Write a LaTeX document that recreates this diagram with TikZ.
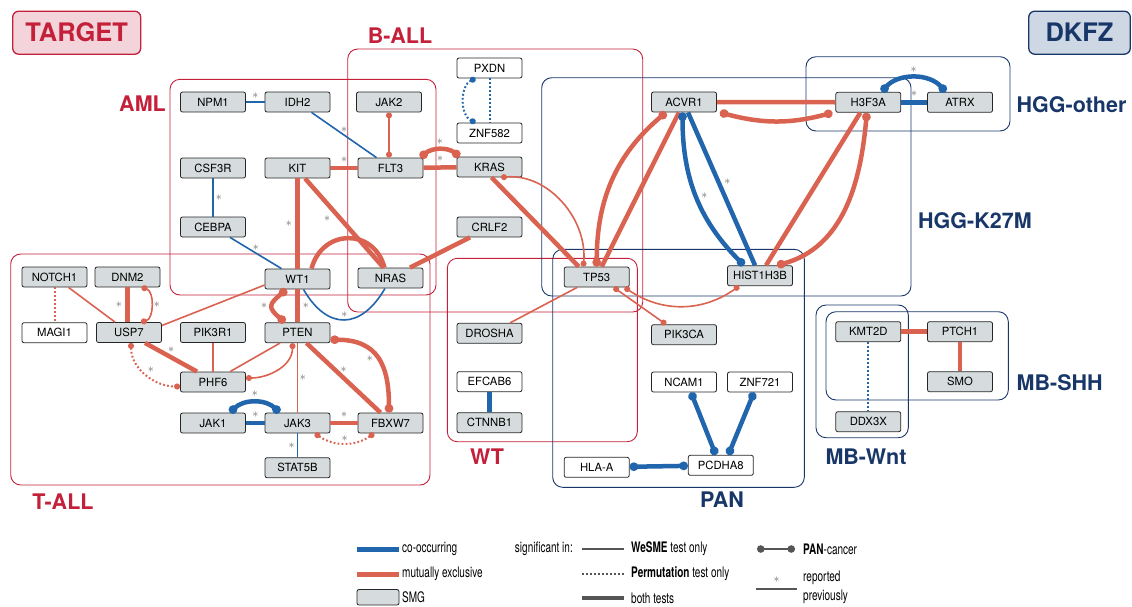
\documentclass[tikz,border=0pt]{standalone}
\usepackage{fontspec}
\setmainfont{TeX Gyre Heros}
\newfontfamily\legendfont[FakeStretch=0.69]{TeX Gyre Heros}
\usetikzlibrary{arrows.meta}

\definecolor{mxred}{RGB}{218,98,80}
\definecolor{coblue}{RGB}{33,101,172}
\definecolor{tgtred}{RGB}{196,32,58}
\definecolor{tgtfill}{RGB}{242,212,218}
\definecolor{dkblue}{RGB}{24,55,104}
\definecolor{dkfill}{RGB}{206,216,228}
\definecolor{smgfill}{RGB}{214,220,221}
\definecolor{stargray}{RGB}{105,105,105}
\definecolor{leggray}{RGB}{85,85,85}

\begin{document}
\begin{tikzpicture}[x=1pt,y=-1pt,
    smg/.style={draw=black!85, line width=0.8pt, fill=smgfill, rounded corners=2pt,
        minimum width=65pt, minimum height=20pt, inner sep=0pt, font=\fontsize{11.3}{12}\selectfont},
    gene/.style={smg, fill=white},
    tgtbox/.style={draw=tgtred, line width=0.9pt, rounded corners=10pt},
    dkbox/.style={draw=dkblue, line width=0.9pt, rounded corners=10pt},
    tgtlabel/.style={text=tgtred, inner sep=0pt, font=\bfseries\fontsize{21.5}{22}\selectfont},
    dklabel/.style={text=dkblue, inner sep=0pt, font=\bfseries\fontsize{21.5}{22}\selectfont},
    mx/.style={color=mxred},
    co/.style={color=coblue},
    wes/.style={line width=1.6pt},
    perm/.style={line width=2pt, dash pattern=on 1.8pt off 2.2pt},
    both/.style={line width=4.5pt},
    pan/.style={{Circle[length=#1]}-{Circle[length=#1]}},
    pan/.default=6pt,
    rp/.style={text=stargray, inner sep=0pt, font=\fontsize{13}{13}\selectfont},
    leg/.style={inner sep=0pt, font=\legendfont\fontsize{14.5}{19}\selectfont}]
    \useasboundingbox (0,0) rectangle (1132,606);

    \node[draw=tgtred, fill=tgtfill, line width=1.3pt, rounded corners=6pt, minimum width=128pt,
        minimum height=43pt, inner sep=0pt, text=tgtred, font=\bfseries\fontsize{25.5}{26}\selectfont]
        (target) at (76.7,32.7) {TARGET};
    \node[draw=dkblue, fill=dkfill, line width=1.3pt, rounded corners=6pt, minimum width=101.5pt,
        minimum height=43pt, inner sep=0pt, text=dkblue, font=\bfseries\fontsize{25.5}{26}\selectfont]
        (dkfz) at (1079.5,32.7) {DKFZ};

    \draw[tgtbox] (170,79.3) rectangle (436,295);
    \draw[tgtbox] (347.7,49) rectangle (642.7,312);
    \draw[tgtbox] (10.7,254) rectangle (430,485);
    \draw[tgtbox] (447.3,258.3) rectangle (637.3,441.7);
    \draw[dkbox] (541.7,77.7) rectangle (911,296);
    \draw[dkbox] (806,56.7) rectangle (1010,131);
    \draw[dkbox] (552.7,249.3) rectangle (804.3,487.3);
    \draw[dkbox] (826,311.7) rectangle (1008.3,400);
    \draw[dkbox] (816,305) rectangle (908.3,437.7);

    \node[tgtlabel, anchor=east] (lAML) at (166,104) {AML};
    \node[tgtlabel] (lBALL) at (400,36) {B-ALL};
    \node[tgtlabel] (lTALL) at (63,502) {T-ALL};
    \node[tgtlabel] (lWT) at (487,457) {WT};
    \node[dklabel, anchor=west] (lHGGo) at (1016.5,105) {HGG-other};
    \node[dklabel, anchor=west] (lHGGk) at (918,221) {HGG-K27M};
    \node[dklabel, anchor=west] (lSHH) at (1016.5,383) {MB-SHH};
    \node[dklabel] (lWnt) at (866,457) {MB-Wnt};
    \node[dklabel] (lPAN) at (722,500) {PAN};

    \node[smg] (NPM1) at (213,102) {NPM1};
    \node[smg] (IDH2) at (297.5,102) {IDH2};
    \node[smg] (JAK2) at (389,102) {JAK2};
    \node[gene] (PXDN) at (489.5,68) {PXDN};
    \node[gene] (ZNF582) at (489.5,133) {ZNF582};
    \node[smg] (CSF3R) at (213,168) {CSF3R};
    \node[smg] (KIT) at (297.5,168) {KIT};
    \node[smg] (FLT3) at (390.5,168) {FLT3};
    \node[smg] (KRAS) at (489.5,167) {KRAS};
    \node[smg] (CEBPA) at (213,227) {CEBPA};
    \node[smg] (CRLF2) at (489.5,227) {CRLF2};
    \node[smg] (NOTCH1) at (54.5,277) {NOTCH1};
    \node[smg] (DNM2) at (127.5,277) {DNM2};
    \node[smg] (WT1) at (297.5,279) {WT1};
    \node[smg] (NRAS) at (390.5,278) {NRAS};
    \node[gene] (MAGI1) at (54.5,332.7) {MAGI1};
    \node[smg] (USP7) at (129,332.5) {USP7};
    \node[smg] (PIK3R1) at (213,332.5) {PIK3R1};
    \node[smg] (PTEN) at (297.5,332.7) {PTEN};
    \node[smg] (PHF6) at (213,382) {PHF6};
    \node[smg] (JAK1) at (213,423) {JAK1};
    \node[smg] (JAK3) at (297.5,423) {JAK3};
    \node[smg] (FBXW7) at (390.5,423) {FBXW7};
    \node[smg] (STAT5B) at (297.5,467.7) {STAT5B};
    \node[smg] (DROSHA) at (489.5,333.3) {DROSHA};
    \node[gene] (EFCAB6) at (489.5,381.7) {EFCAB6};
    \node[smg] (CTNNB1) at (489.5,422.7) {CTNNB1};
    \node[smg] (ACVR1) at (684,102) {ACVR1};
    \node[smg] (H3F3A) at (868.3,102.3) {H3F3A};
    \node[smg] (ATRX) at (960,102.3) {ATRX};
    \node[smg] (TP53) at (596.7,277) {TP53};
    \node[smg] (HIST1H3B) at (760,275.7) {HIST1H3B};
    \node[smg] (PIK3CA) at (684,334.7) {PIK3CA};
    \node[gene] (NCAM1) at (684,382) {NCAM1};
    \node[gene] (ZNF721) at (760,382) {ZNF721};
    \node[gene] (HLAA) at (596.7,467.3) {HLA-A};
    \node[gene] (PCDHA8) at (720.8,465.3) {PCDHA8};
    \node[smg] (KMT2D) at (868.3,331.7) {KMT2D};
    \node[smg] (PTCH1) at (960,331.7) {PTCH1};
    \node[smg] (SMO) at (960,381.7) {SMO};
    \node[smg] (DDX3X) at (868.3,421.7) {DDX3X};

    \draw[co,wes] (NPM1) -- node[rp,above=3pt] {$\ast$} (IDH2);
    \draw[co,wes] ([xshift=14pt]IDH2.south) -- node[rp,above=2pt] {$\ast$} ([xshift=-14pt]FLT3.north);
    \draw[mx,wes,pan] (JAK2.south) -- (JAK2.south |- FLT3.north);
    \draw[mx,both] (KIT) -- node[rp,above=3.5pt] {$\ast$} (FLT3);
    \draw[mx,both] (FLT3) -- node[rp,above=3.5pt] {$\ast$} (KRAS);
    \draw[mx,both,pan=8.5pt] ([xshift=-3pt]FLT3.north east) to[bend left=40] node[rp,above=2.5pt] {$\ast$} ([xshift=3pt]KRAS.north west);
    \draw[co,wes] (CSF3R) -- node[rp,right=2pt] {$\ast$} (CEBPA);
    \draw[co,wes] ([xshift=17pt]CEBPA.south) -- node[rp,above=2pt] {$\ast$} ([xshift=-16pt]WT1.north);
    \draw[mx,both] (KIT) -- node[rp,left=3.5pt] {$\ast$} (WT1);
    \draw[mx,both] ([xshift=7.5pt]KIT.south) -- node[rp,pos=0.45,left=8pt] {$\ast$} ([xshift=-7pt]NRAS.north);
    \draw[mx,both] ([xshift=14pt]WT1.north) to[out=75,in=105,looseness=1.45] ([xshift=-6pt]NRAS.north);
    \draw[co,wes] ([xshift=6pt]WT1.south) to[out=-60,in=-120,looseness=1.5] node[rp,above=1.5pt] {$\ast$} ([xshift=-5.5pt]NRAS.south);
    \draw[mx,both] ([xshift=-19.5pt]CRLF2.south) -- ([xshift=19.5pt]NRAS.north);

    \draw[mx,perm] (NOTCH1) -- (MAGI1);
    \draw[mx,wes] ([xshift=14pt]NOTCH1.south) -- ([xshift=-14pt]USP7.north);
    \draw[mx,both] (DNM2.south) -- node[rp,left=3.5pt] {$\ast$} (DNM2.south |- USP7.north);
    \draw[mx,wes,pan] ([xshift=14pt]DNM2.south) to[bend left=75] node[rp,right=2pt] {$\ast$} ([xshift=12pt]USP7.north);
    \draw[mx,wes] ([yshift=7pt]USP7.east) -- ([yshift=-6pt]WT1.west);
    \draw[mx,both] ([xshift=16pt]USP7.south) -- node[rp,above=3pt] {$\ast$} ([xshift=-16pt]PHF6.north);
    \draw[mx,perm,pan] ([xshift=2pt]USP7.south) to[out=-90,in=180] node[rp,above right=1pt] {$\ast$} ([yshift=-4.5pt]PHF6.west);
    \draw[mx,wes] (PIK3R1) -- (PHF6);
    \draw[mx,wes] ([xshift=-17.5pt]PTEN.south) -- ([xshift=17pt]PHF6.north);
    \draw[mx,wes,pan] ([xshift=-5pt]PTEN.south) to[out=-90,in=0] ([yshift=4pt]PHF6.east);
    \draw[mx,both] (WT1) -- node[rp,right=3pt] {$\ast$} (PTEN);
    \draw[mx,both,pan=8.5pt] ([xshift=-11pt]WT1.south) to[out=220,in=140,looseness=1.8] node[rp,left=3pt] {$\ast$} ([xshift=-12.5pt]PTEN.north);
    \draw[mx,wes] (PTEN) -- node[rp,right=1.5pt] {$\ast$} (JAK3);
    \draw[mx,both] ([xshift=9pt]PTEN.south) -- node[rp,above=3pt] {$\ast$} ([xshift=-10pt]FBXW7.north);
    \draw[mx,both,pan=8.5pt] ([yshift=-7pt]PTEN.east) to[out=0,in=90,looseness=1.3] node[rp,left=2.5pt] {$\ast$} ([xshift=-1.5pt]FBXW7.north);
    \draw[co,both] (JAK1) -- node[rp,above=3.5pt] {$\ast$} (JAK3);
    \draw[co,both,pan=8.5pt] ([xshift=17pt]JAK1.north) to[bend left=45] node[rp,above=3.5pt] {$\ast$} ([xshift=-18pt]JAK3.north);
    \draw[mx,both] (JAK3) -- node[rp,above=3.5pt] {$\ast$} (FBXW7);
    \draw[mx,perm,pan] ([xshift=17.5pt]JAK3.south) to[bend right=35] node[rp,above=0.5pt] {$\ast$} ([xshift=-16.5pt]FBXW7.south);
    \draw[co,wes] (JAK3) -- node[rp,left=2pt] {$\ast$} (STAT5B);

    \draw[co,perm,pan] ([xshift=-14pt]PXDN.south) to[bend right=65] ([xshift=-14pt]ZNF582.north);
    \draw[co,perm] (PXDN) -- (ZNF582);
    \draw[mx,both] ([xshift=2pt]KRAS.south) -- ([xshift=-18pt]TP53.north);
    \draw[mx,wes,pan] ([xshift=11.5pt]KRAS.south) to[out=5,in=85] ([xshift=-13.4pt]TP53.north);

    \draw[mx,both] ([xshift=-5pt]ACVR1.south) -- ([xshift=5pt]TP53.north);
    \draw[mx,both,pan=8.5pt] ([xshift=-18pt]ACVR1.south) to[out=220,in=90] (TP53.north);
    \draw[co,both] ([xshift=4pt]ACVR1.south) -- node[rp,pos=0.45,right=4pt] {$\ast$} ([xshift=-5pt]HIST1H3B.north);
    \draw[co,both,pan=8.5pt] ([xshift=-1.5pt]ACVR1.south) to[out=-90,in=135] node[rp,right=3pt] {$\ast$} ([xshift=-16pt]HIST1H3B.north);
    \draw[mx,both] (ACVR1) -- (H3F3A);
    \draw[mx,both,pan=8.5pt] ([xshift=3pt]ACVR1.south east) to[bend right=15] ([xshift=-3pt]H3F3A.south west);
    \draw[mx,both] ([xshift=-8pt]H3F3A.south) -- ([xshift=6pt]HIST1H3B.north);
    \draw[mx,both,pan=8.5pt] ([xshift=-1.5pt]H3F3A.south) to[out=-95,in=15] ([xshift=17pt]HIST1H3B.north);
    \draw[co,both] (H3F3A) -- node[rp,above=3.5pt] {$\ast$} (ATRX);
    \draw[co,both,pan=8.5pt] ([xshift=13.5pt]H3F3A.north) to[bend left=50] node[rp,above=3pt] {$\ast$} ([xshift=-14.5pt]ATRX.north);

    \draw[mx,wes,pan] ([xshift=28pt]TP53.south) to[bend right=35] ([xshift=-21pt]HIST1H3B.south);
    \draw[mx,wes,pan] ([xshift=17pt]TP53.south) -- ([xshift=-18pt]PIK3CA.north);
    \draw[mx,wes] ([xshift=-19.5pt]TP53.south) -- ([xshift=20.5pt]DROSHA.north);
    \draw[co,both,pan=8.5pt] ([xshift=7pt]NCAM1.south) -- ([xshift=-5pt]PCDHA8.north);
    \draw[co,both,pan=8.5pt] ([xshift=-6pt]ZNF721.south) -- ([xshift=7.5pt]PCDHA8.north);
    \draw[co,both,pan=8.5pt] (HLAA) -- (PCDHA8);

    \draw[co,both] (EFCAB6) -- (CTNNB1);
    \draw[mx,both] (KMT2D) -- (PTCH1);
    \draw[mx,both] (PTCH1) -- (SMO);
    \draw[co,perm] (KMT2D) -- (DDX3X);

    \draw[coblue, line width=5pt] (357,549) -- (399,549);
    \node[leg, anchor=west] (lco) at (402,549) {co-occurring};
    \draw[mxred, line width=5pt] (357,574) -- (399,574);
    \node[leg, anchor=west] (lmx) at (402,574) {mutually exclusive};
    \draw[draw=black!85, fill=smgfill, line width=0.8pt, rounded corners=2pt] (357,589.5) rectangle (399,605);
    \node[leg, anchor=west] (lsmg) at (402,597) {SMG};
    \node[leg, anchor=east] (lsig) at (573,549) {significant in:};
    \draw[leggray, line width=1.6pt] (582,549) -- (624,549);
    \node[leg, anchor=west] (lwes) at (631,549) {\textbf{WeSME} test only};
    \draw[leggray, perm] (582,574) -- (624,574);
    \node[leg, anchor=west] (lperm) at (631,574) {\textbf{Permutation} test only};
    \draw[leggray, line width=4.5pt] (582,598) -- (624,598);
    \node[leg, anchor=west] (lboth) at (631,598) {both tests};
    \draw[leggray, line width=1.6pt, pan=7.5pt] (757,549) -- (795,549);
    \node[leg, anchor=west] (lpan) at (803,549) {\textbf{PAN}-cancer};
    \draw[leggray, line width=1.6pt] (756,589) -- node[rp,above=6pt] {$\ast$} (797,589);
    \node[leg, anchor=west, align=left] (lrep) at (803,587) {reported\\previously};
\end{tikzpicture}
\end{document}
